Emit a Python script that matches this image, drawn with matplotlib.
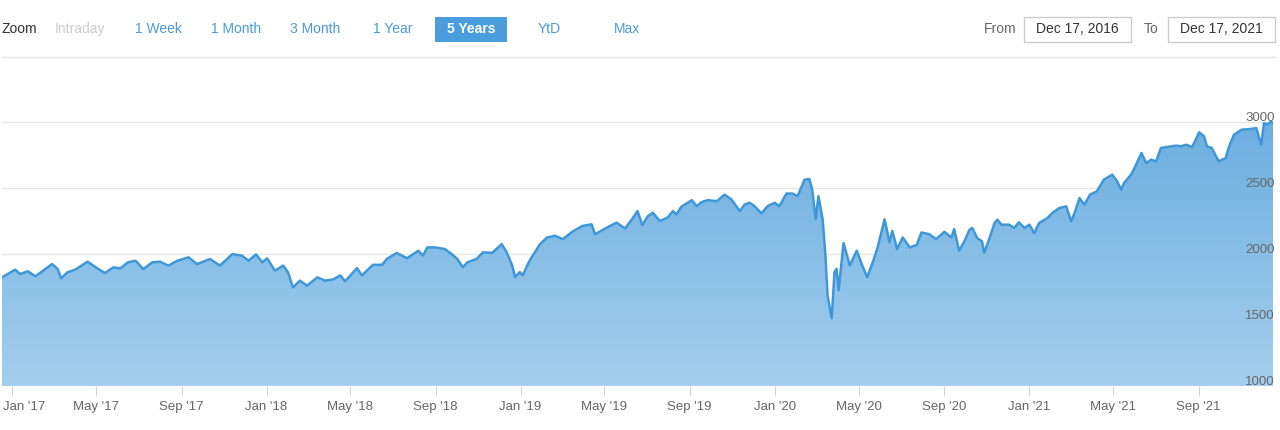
import matplotlib
matplotlib.use("Agg")
import matplotlib.pyplot as plt
import matplotlib.dates as mdates
from matplotlib.patches import Rectangle
from matplotlib.colors import LinearSegmentedColormap
import numpy as np
import pandas as pd

plt.rcParams['font.family'] = ['Liberation Sans', 'DejaVu Sans']

# valores (datas aproximadas)
datas = [
    "2016-12-17", "2017-01-05", "2017-01-12", "2017-01-23", "2017-02-03", "2017-02-14",
    "2017-02-27", "2017-03-07", "2017-03-12", "2017-03-21", "2017-04-01", "2017-04-19",
    "2017-05-03", "2017-05-14", "2017-05-26", "2017-06-05", "2017-06-16", "2017-06-27",
    "2017-07-08", "2017-07-21", "2017-08-01", "2017-08-13", "2017-08-26", "2017-09-11",
    "2017-09-23", "2017-10-12", "2017-10-26", "2017-11-13", "2017-11-27", "2017-12-06",
    "2017-12-17", "2017-12-26", "2018-01-02", "2018-01-13", "2018-01-25", "2018-02-01",
    "2018-02-08", "2018-02-18", "2018-02-28", "2018-03-15", "2018-03-26", "2018-04-07",
    "2018-04-17", "2018-04-24", "2018-05-11", "2018-05-18", "2018-06-03", "2018-06-16",
    "2018-06-23", "2018-07-07", "2018-07-22", "2018-08-07", "2018-08-14", "2018-08-20",
    "2018-08-31", "2018-09-14", "2018-09-24", "2018-10-02", "2018-10-10", "2018-10-17",
    "2018-10-30", "2018-11-08", "2018-11-21", "2018-12-05", "2018-12-12", "2018-12-20",
    "2018-12-24", "2018-12-31", "2019-01-04", "2019-01-14", "2019-01-29", "2019-02-08",
    "2019-02-19", "2019-03-03", "2019-03-16", "2019-03-31", "2019-04-13", "2019-04-18",
    "2019-05-05", "2019-05-19", "2019-05-31", "2019-06-10", "2019-06-18", "2019-06-25",
    "2019-07-03", "2019-07-10", "2019-07-20", "2019-07-31", "2019-08-08", "2019-08-13",
    "2019-08-20", "2019-09-04", "2019-09-11", "2019-09-18", "2019-09-27", "2019-10-10",
    "2019-10-21", "2019-10-31", "2019-11-12", "2019-11-19", "2019-11-26", "2019-12-03",
    "2019-12-13", "2019-12-22", "2020-01-01", "2020-01-08", "2020-01-18", "2020-01-27",
    "2020-02-03", "2020-02-13", "2020-02-20", "2020-02-24", "2020-02-29", "2020-03-04",
    "2020-03-10", "2020-03-14", "2020-03-17", "2020-03-23", "2020-03-27", "2020-03-30",
    "2020-04-02", "2020-04-09", "2020-04-18", "2020-04-28", "2020-05-05", "2020-05-13",
    "2020-05-21", "2020-05-28", "2020-06-07", "2020-06-14", "2020-06-18", "2020-06-25",
    "2020-07-03", "2020-07-13", "2020-07-23", "2020-07-30", "2020-08-10", "2020-08-20",
    "2020-09-01", "2020-09-11", "2020-09-15", "2020-09-22", "2020-09-30", "2020-10-07",
    "2020-10-11", "2020-10-18", "2020-10-25", "2020-10-28", "2020-11-04", "2020-11-12",
    "2020-11-16", "2020-11-22", "2020-12-03", "2020-12-10", "2020-12-17", "2020-12-25",
    "2021-01-01", "2021-01-08", "2021-01-15", "2021-01-27", "2021-02-03", "2021-02-13",
    "2021-02-23", "2021-03-02", "2021-03-07", "2021-03-14", "2021-03-21", "2021-03-29",
    "2021-04-08", "2021-04-18", "2021-04-30", "2021-05-07", "2021-05-13", "2021-05-17",
    "2021-05-27", "2021-06-01", "2021-06-11", "2021-06-18", "2021-06-25", "2021-07-02",
    "2021-07-09", "2021-07-18", "2021-07-31", "2021-08-07", "2021-08-14", "2021-08-23",
    "2021-09-02", "2021-09-09", "2021-09-13", "2021-09-20", "2021-09-30", "2021-10-10",
    "2021-10-15", "2021-10-22", "2021-11-02", "2021-11-15", "2021-11-23", "2021-11-30",
    "2021-12-04", "2021-12-08", "2021-12-14", "2021-12-17",
]
valores = [
    1823, 1881, 1848, 1869, 1831, 1874,
    1924, 1886, 1816, 1861, 1881, 1942,
    1891, 1856, 1899, 1891, 1937, 1949,
    1886, 1937, 1942, 1912, 1949, 1975,
    1924, 1962, 1912, 2000, 1987, 1949,
    1997, 1937, 1967, 1874, 1912, 1861,
    1747, 1798, 1760, 1823, 1798, 1808,
    1838, 1793, 1893, 1838, 1918, 1918,
    1963, 2008, 1968, 2025, 1988, 2050,
    2050, 2038, 2000, 1963, 1900, 1938,
    1963, 2013, 2008, 2075, 2013, 1913,
    1825, 1863, 1838, 1950, 2075, 2125,
    2138, 2113, 2168, 2213, 2225, 2150,
    2200, 2238, 2193, 2263, 2325, 2220,
    2288, 2313, 2250, 2275, 2325, 2300,
    2358, 2408, 2363, 2393, 2408, 2400,
    2450, 2413, 2325, 2375, 2388, 2363,
    2308, 2363, 2388, 2363, 2458, 2458,
    2438, 2563, 2568, 2488, 2263, 2438,
    2263, 1988, 1688, 1513, 1863, 1888,
    1725, 2083, 1913, 2025, 1925, 1825,
    1938, 2050, 2263, 2088, 2175, 2038,
    2125, 2050, 2068, 2163, 2150, 2113,
    2168, 2125, 2188, 2025, 2100, 2184,
    2197, 2121, 2096, 2008, 2109, 2235,
    2260, 2222, 2222, 2197, 2240, 2197,
    2222, 2159, 2235, 2273, 2311, 2348,
    2361, 2248, 2311, 2424, 2374, 2449,
    2475, 2563, 2601, 2551, 2487, 2538,
    2601, 2651, 2765, 2689, 2715, 2702,
    2803, 2811, 2821, 2816, 2828, 2811,
    2922, 2891, 2816, 2803, 2702, 2727,
    2816, 2904, 2942, 2947, 2954, 2828,
    2992, 2980, 3000, 2995,
]
botoes = ["Intraday", "1 Week", "1 Month", "3 Month", "1 Year", "5 Years", "YtD", "Max"]
data_inicio = "Dec 17, 2016"
data_fim = "Dec 17, 2021"
ticks_y = [1000, 1500, 2000, 2500, 3000]

W, H = 1280, 430
fig = plt.figure(figsize=(W / 100, H / 100), dpi=100)

def fx(px):
    return px / W

def fy(py):
    return 1 - py / H

# eixo principal (pixels 2..1273 x 100..386)
ax = fig.add_axes([fx(2), fy(386), fx(1273 - 2), (386 - 100) / H])
datas_dt = pd.to_datetime(datas)
x = mdates.date2num(datas_dt)
y = np.array(valores, dtype=float)

ymin, ymax = 1000, 1000 + (386 - 100) * 500 / 66
ax.set_xlim(x[0], x[-1])
ax.set_ylim(ymin, ymax)

# preenchimento com gradiente
cmap = LinearSegmentedColormap.from_list("grad", ["#a4cfee", "#68abde"])
grad = np.linspace(0, 1, 256).reshape(-1, 1)
img = ax.imshow(grad, cmap=cmap, origin="lower", aspect="auto",
                extent=[x[0], x[-1], ymin, ymax], zorder=1)
poly = ax.fill_between(x, ymin, y, color="none", lw=0)
clip = poly.get_paths()[0]
img.set_clip_path(clip, transform=ax.transData)

ax.plot(x, y, color="#3f97d8", lw=1.8, zorder=3, solid_joinstyle="round")

# grade
for v in ticks_y[1:]:
    ax.axhline(v, color="#e6e6e6", lw=1, zorder=0.5)
ax.axhline(1000, color="#ccd6eb", lw=1, zorder=4)

for s in ax.spines.values():
    s.set_visible(False)
ax.set_yticks([])

primeiro = mdates.date2num(pd.Timestamp("2017-01-01"))

def rotulo_x(v, pos):
    # o primeiro rotulo e desenhado a parte, deslocado para dentro
    if abs(v - primeiro) < 1:
        return ""
    return mdates.num2date(v).strftime("%b '%y")

ax.xaxis.set_major_locator(mdates.MonthLocator(bymonth=[1, 5, 9]))
ax.xaxis.set_major_formatter(plt.FuncFormatter(rotulo_x))
# comprimento e pad em pontos: 7pt ~ 9.7px, 4pt ~ 5.6px
ax.tick_params(axis="x", length=7, color="#ccd6eb", labelcolor="#666666",
               labelsize=9.5, pad=4)
fig.text(fx(3), fy(386 + 7 * 100 / 72 + 4 * 100 / 72), "Jan '17", fontsize=9.5,
         color="#666666", ha="left", va="top")
ax.patch.set_alpha(0)

# rotulos do eixo y a direita (linha de base 1px acima da grade)
for v in ticks_y:
    ax.text(1.0015, v + 8, str(v), transform=ax.get_yaxis_transform(),
            ha="right", va="baseline", fontsize=9.5, color="#666666", zorder=6)

# linha separadora
fig.add_artist(plt.Line2D([fx(2), fx(1275)], [fy(57), fy(57)], color="#e6e6e6", lw=1))

# barra de zoom
fig.text(fx(2), fy(29), "Zoom", fontsize=10, color="#333333", va="center", ha="left")
pos_botoes = [80, 158, 236, 315, 393, 471, 549, 627]
for nome, px in zip(botoes, pos_botoes):
    if nome == "5 Years":
        fig.add_artist(Rectangle((fx(435), fy(42)), fx(72), 25 / H,
                                 facecolor="#4a9ede", edgecolor="none"))
        fig.text(fx(px), fy(29), nome, fontsize=10, color="white",
                 fontweight="bold", va="center", ha="center")
    elif nome == "Intraday":
        fig.text(fx(px), fy(29), nome, fontsize=10, color="#cccccc",
                 va="center", ha="center")
    else:
        fig.text(fx(px), fy(29), nome, fontsize=10, color="#4a9ad8",
                 va="center", ha="center")

# caixas de datas
fig.text(fx(1000), fy(29), "From", fontsize=10, color="#666666", va="center", ha="center")
fig.text(fx(1151), fy(29), "To", fontsize=10, color="#666666", va="center", ha="center")
for x0, txt in [(1024, data_inicio), (1168, data_fim)]:
    fig.add_artist(Rectangle((fx(x0), fy(42)), fx(107), 25 / H,
                             facecolor="white", edgecolor="#cccccc", lw=1))
    fig.text(fx(x0 + 53.5), fy(29), txt, fontsize=10, color="#333333",
             va="center", ha="center")

fig.savefig("out.png", dpi=100)
